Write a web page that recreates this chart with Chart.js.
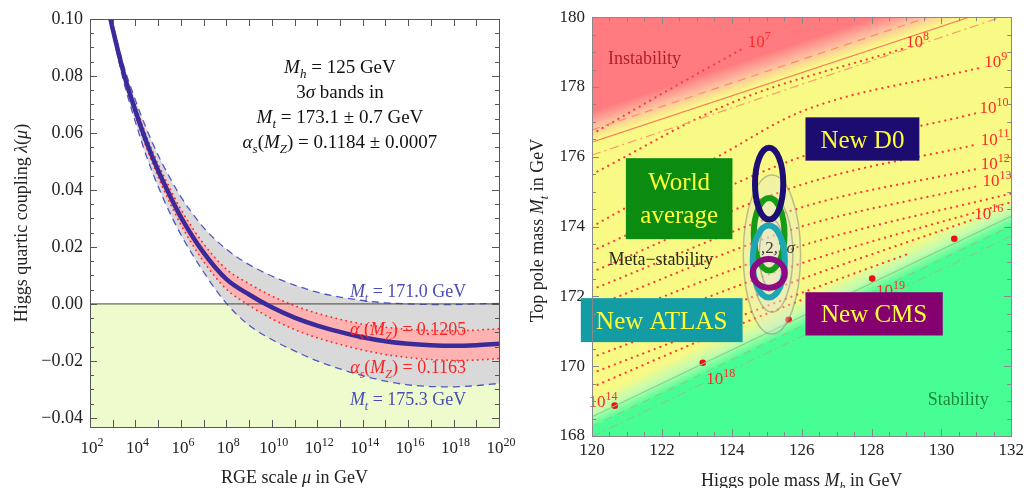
<!DOCTYPE html>
<html>
<head>
<meta charset="utf-8">
<script src="https://cdn.jsdelivr.net/npm/chart.js@4.4.1/dist/chart.umd.min.js"></script>
<style>
  html, body { margin: 0; padding: 0; background: #fff; }
  #wrap { position: relative; width: 1028px; height: 488px; overflow: hidden; }
  #lambdaChart { position: absolute; left: 0; top: 0; }
  #massChart { position: absolute; left: 520px; top: 0; }
</style>
</head>
<body>
<div id="wrap">
  <canvas id="lambdaChart" width="520" height="488"></canvas>
  <canvas id="massChart" width="508" height="488"></canvas>
</div>
<script>
const SERIF = '"Liberation Serif", "Times New Roman", serif';
Chart.defaults.font.family = SERIF;
Chart.defaults.color = '#222';

// ---- left panel: running of lambda(mu) ----
const logMu = [2.8, 3, 3.5, 4, 4.5, 5, 5.5, 6, 7, 8, 9, 10, 11, 12, 13, 14, 15, 16, 17, 18, 19, 20];
const lambdaCentral = [0.1035, 0.0965, 0.0805, 0.0678, 0.0565, 0.0468, 0.0383, 0.0305, 0.0180, 0.0087, 0.0033, -0.0012, -0.0048, -0.0076, -0.0098, -0.0117, -0.0131, -0.0140, -0.0145, -0.0147, -0.0145, -0.0140];
const lambdaMt171 = [0.1048, 0.0982, 0.0832, 0.0715, 0.0612, 0.0522, 0.0445, 0.0376, 0.0268, 0.0192, 0.0138, 0.0098, 0.0066, 0.0041, 0.0024, 0.0012, 0.0004, 0.0000, -0.0002, -0.0002, 0.0000, 0.0002];
const lambdaMt175 = [0.1020, 0.0948, 0.0775, 0.0638, 0.0515, 0.0412, 0.0322, 0.0243, 0.0112, 0.0002, -0.0075, -0.0125, -0.0165, -0.0200, -0.0228, -0.0252, -0.0271, -0.0284, -0.0290, -0.0291, -0.0287, -0.0279];
const lambdaAs1205 = [0.1045, 0.0977, 0.0820, 0.0696, 0.0585, 0.0490, 0.0408, 0.0332, 0.0211, 0.0122, 0.0071, 0.0028, -0.0006, -0.0033, -0.0054, -0.0071, -0.0082, -0.0089, -0.0093, -0.0094, -0.0092, -0.0087];
const lambdaAs1163 = [0.1025, 0.0953, 0.0790, 0.0660, 0.0545, 0.0446, 0.0358, 0.0278, 0.0149, 0.0052, -0.0005, -0.0052, -0.0090, -0.0119, -0.0142, -0.0162, -0.0178, -0.0188, -0.0195, -0.0198, -0.0197, -0.0192];
const zeroSpan = [2, 20];
const zeroLevel = [0, 0];

// ---- right panel: (Mh, Mt) plane ----
const instabEdge = [[120, 177.3], [132, 181.3]];
const instabFade = [[120, 176.45], [132, 180.45]];
const stabFade = [[120, 169.1], [132, 174.9]];
const stabEdge = [[120, 168.2], [132, 174.0]];

const instabDashed = [[120, 176.77], [132, 180.8]];
const instabSolid = [[120, 176.42], [132, 180.4]];
const instabDotDash = [[120, 176.05], [132, 180.1]];
const stabSolid = [[120, 168.55], [132, 174.3]];
const stabDashed = [[120, 168.27], [132, 174.02]];
const stabDotDash = [[120, 167.98], [132, 173.73]];

const contourPts = [
  [[120, 176.65], [122.2, 177.92], [124.4, 179.15]],
  [[120, 175.5], [124, 177.55], [128.9, 179.1]],
  [[120, 174.0], [123.7, 176.06], [126, 177.3], [131.1, 178.55]],
  [[120, 173.3], [126, 176.0], [131, 177.25]],
  [[120, 172.7], [126, 175.2], [131, 176.35]],
  [[120, 172.2], [126, 174.55], [131, 175.65]],
  [[120, 171.7], [126, 174.0], [131, 175.15]],
  [[120, 171.2], [126, 173.45], [132, 174.95]],
  [[120, 170.7], [126, 172.95], [132, 174.7]],
  [[120, 170.25], [126, 172.5], [130.9, 174.2]],
  [[120, 169.8], [126, 172.1], [129, 173.2]],
  [[120, 169.4], [123.5, 170.9], [126, 171.9]]
];
const contourLabelExp = ['7', '8', '9', '10', '11', '12', '13', '16', '19', '18', '14'];
const contourLabelMh = [124.46, 128.99, 131.23, 131.09, 131.13, 131.13, 131.18, 130.94, 128.13, 123.27, 119.9];
const contourLabelMt = [179.15, 179.15, 178.58, 177.25, 176.35, 175.64, 175.16, 174.22, 172.02, 169.5, 168.84];

const dotMh = [120.65, 123.17, 125.63, 128.02, 130.37];
const dotMt = [168.87, 170.10, 171.33, 172.51, 173.65];

const combMh = 125.15, combMt = 173.2;
const combSigMh = [0.82, 0.6, 0.36];
const combSigMt = [2.28, 1.65, 1.0];

const fitNames = ['World average', 'New ATLAS', 'New D0', 'New CMS'];
const fitMh = [125.07, 125.06, 125.07, 125.06];
const fitMt = [173.78, 173.0, 175.23, 172.66];
const fitSigMh = [0.44, 0.46, 0.405, 0.46];
const fitSigMt = [1.04, 1.03, 1.03, 0.41];
const fitColors = ['#149c16', '#1ea6b4', '#1c0e72', '#8c0a84'];

const boxLines = [['World', 'average'], ['New ATLAS'], ['New D0'], ['New CMS']];
const boxMh0 = [120.97, 119.68, 126.11, 126.11];
const boxMh1 = [124.02, 124.31, 129.37, 130.04];
const boxMtTop = [175.96, 171.95, 177.13, 172.12];
const boxMtBot = [173.64, 170.69, 175.89, 170.88];
const boxColors = ['#0b8c10', '#139ca4', '#1c0c70', '#85006f'];

const toPts = (xs, ys) => xs.map((v, i) => ({x: v, y: ys[i]}));
const pairPts = (arr) => arr.map(([x, y]) => ({x, y}));

// text with italic / sub / superscript pieces
function fontFor(st, size) {
  const small = st === 'b' || st === 'u' || st === 'd';
  const italic = st === 'i' || st === 'b';
  return (italic ? 'italic ' : '') + Math.round(small ? size * 0.68 : size) + 'px ' + SERIF;
}
function richText(ctx, parts, x, y, size, color, align) {
  ctx.save();
  ctx.fillStyle = color;
  ctx.textBaseline = 'alphabetic';
  ctx.textAlign = 'left';
  let total = 0;
  const widths = parts.map(([t, st]) => {
    ctx.font = fontFor(st, size);
    const w = ctx.measureText(t).width;
    total += w;
    return w;
  });
  let cx = align === 'left' ? x : align === 'right' ? x - total : x - total / 2;
  parts.forEach(([t, st], i) => {
    ctx.font = fontFor(st, size);
    const dy = (st === 'b' || st === 'd') ? size * 0.28 : st === 'u' ? -size * 0.42 : 0;
    ctx.fillText(t, cx, y + dy);
    cx += widths[i];
  });
  ctx.restore();
}

function drawFrame(ctx, a, xs, ys, xTicks, yTicks, color) {
  ctx.save();
  ctx.strokeStyle = color;
  ctx.lineWidth = 1;
  ctx.strokeRect(Math.round(a.left) + 0.5, Math.round(a.top) + 0.5, Math.round(a.right - a.left), Math.round(a.bottom - a.top));
  ctx.beginPath();
  xTicks.forEach(([v, len]) => {
    const p = Math.round(xs.getPixelForValue(v)) + 0.5;
    ctx.moveTo(p, a.bottom); ctx.lineTo(p, a.bottom - len);
    ctx.moveTo(p, a.top); ctx.lineTo(p, a.top + len);
  });
  yTicks.forEach(([v, len]) => {
    const p = Math.round(ys.getPixelForValue(v)) + 0.5;
    ctx.moveTo(a.left, p); ctx.lineTo(a.left + len, p);
    ctx.moveTo(a.right, p); ctx.lineTo(a.right - len, p);
  });
  ctx.stroke();
  ctx.restore();
}

const fmtLambda = (v) => {
  if (Math.abs(v) < 1e-9) return '0.00';
  return (v < 0 ? '\u2212' : '') + Math.abs(v).toFixed(2);
};

const lambdaDecor = {
  id: 'lambdaDecor',
  afterDraw(chart) {
    const {ctx, chartArea: a, scales: {x, y}} = chart;
    const xt = [];
    for (let d = 2; d <= 20; d++) xt.push([d, 7]);
    const yt = [];
    for (let i = -8; i <= 20; i++) yt.push([i * 0.005, i % 4 === 0 ? 7 : 4]);
    drawFrame(ctx, a, x, y, xt, yt, '#555');

    for (let d = 2; d <= 20; d += 2) {
      richText(ctx, [['10', 'n'], [String(d), 'u']], x.getPixelForValue(d) + 2, a.bottom + 26, 17, '#222', 'center');
    }

    const cx = x.getPixelForValue(13.0);
    richText(ctx, [['M', 'i'], ['h', 'b'], [' = 125 GeV', 'n']], cx, y.getPixelForValue(0.081), 19, '#111', 'center');
    richText(ctx, [['3', 'n'], ['\u03c3', 'i'], [' bands in', 'n']], cx, y.getPixelForValue(0.0722), 19, '#111', 'center');
    richText(ctx, [['M', 'i'], ['t', 'b'], [' = 173.1 \u00b1 0.7 GeV', 'n']], cx, y.getPixelForValue(0.0635), 19, '#111', 'center');
    richText(ctx, [['\u03b1', 'i'], ['s', 'b'], ['(', 'n'], ['M', 'i'], ['Z', 'b'], [') = 0.1184 \u00b1 0.0007', 'n']], cx, y.getPixelForValue(0.0548), 19, '#111', 'center');

    const lx = x.getPixelForValue(16.0);
    richText(ctx, [['M', 'i'], ['t', 'b'], [' = 171.0 GeV', 'n']], lx, y.getPixelForValue(0.0024), 18, '#4a4ab8', 'center');
    richText(ctx, [['\u03b1', 'i'], ['s', 'b'], ['(', 'n'], ['M', 'i'], ['Z', 'b'], [') = 0.1205', 'n']], lx, y.getPixelForValue(-0.0108), 18, '#ff2222', 'center');
    richText(ctx, [['\u03b1', 'i'], ['s', 'b'], ['(', 'n'], ['M', 'i'], ['Z', 'b'], [') = 0.1163', 'n']], lx, y.getPixelForValue(-0.0241), 18, '#ff2222', 'center');
    richText(ctx, [['M', 'i'], ['t', 'b'], [' = 175.3 GeV', 'n']], lx, y.getPixelForValue(-0.0356), 18, '#4a4ab8', 'center');

    richText(ctx, [['RGE scale ', 'n'], ['\u03bc', 'i'], [' in GeV', 'n']], (a.left + a.right) / 2, 483, 18, '#222', 'center');
    ctx.save();
    ctx.translate(27, (a.top + a.bottom) / 2);
    ctx.rotate(-Math.PI / 2);
    richText(ctx, [['Higgs quartic coupling ', 'n'], ['\u03bb', 'i'], ['(', 'n'], ['\u03bc', 'i'], [')', 'n']], 0, 0, 18, '#222', 'center');
    ctx.restore();
  }
};

const lineStyle = {pointRadius: 0, cubicInterpolationMode: 'monotone'};

new Chart(document.getElementById('lambdaChart'), {
  type: 'line',
  data: {
    datasets: [
      {data: toPts(zeroSpan, zeroLevel), fill: 'start', backgroundColor: '#eefbcd', borderWidth: 0, pointRadius: 0, order: 10},
      {data: toPts(logMu, lambdaMt171), fill: 2, backgroundColor: '#d9d9d9', borderColor: '#5058c4', borderWidth: 1.3, borderDash: [7, 5], ...lineStyle, order: 9},
      {data: toPts(logMu, lambdaMt175), fill: false, borderColor: '#5058c4', borderWidth: 1.3, borderDash: [7, 5], ...lineStyle, order: 8},
      {data: toPts(logMu, lambdaAs1205), fill: 4, backgroundColor: '#ffb2b2', borderColor: '#ff2a2a', borderWidth: 1.8, borderDash: [0.1, 5], borderCapStyle: 'round', ...lineStyle, order: 7},
      {data: toPts(logMu, lambdaAs1163), fill: false, borderColor: '#ff2a2a', borderWidth: 1.8, borderDash: [0.1, 5], borderCapStyle: 'round', ...lineStyle, order: 6},
      {data: toPts(zeroSpan, zeroLevel), fill: false, borderColor: '#444', borderWidth: 1, pointRadius: 0, order: 5},
      {data: toPts(logMu, lambdaCentral), fill: false, borderColor: '#3b2b9a', borderWidth: 4.5, ...lineStyle, order: 1}
    ]
  },
  options: {
    responsive: false,
    animation: false,
    events: [],
    layout: {padding: {top: 19, right: 21, left: 0, bottom: 0}},
    plugins: {legend: {display: false}, tooltip: {enabled: false}},
    scales: {
      x: {
        type: 'linear', min: 2, max: 20,
        grid: {display: false, drawTicks: false}, border: {display: false},
        ticks: {display: false},
        afterFit: (s) => { s.height = 61; }
      },
      y: {
        min: -0.0432, max: 0.1,
        grid: {display: false, drawTicks: false}, border: {display: false},
        ticks: {stepSize: 0.02, includeBounds: false, padding: 7, font: {size: 18}, color: '#222', callback: fmtLambda},
        afterFit: (s) => { s.width = 90; }
      }
    }
  },
  plugins: [lambdaDecor]
});

// ---- right panel helpers ----
function fillBand(ctx, xs, ys, fade, edge, colors, farY) {
  const f0 = [xs.getPixelForValue(fade[0][0]), ys.getPixelForValue(fade[0][1])];
  const f1 = [xs.getPixelForValue(fade[1][0]), ys.getPixelForValue(fade[1][1])];
  const e0 = [xs.getPixelForValue(edge[0][0]), ys.getPixelForValue(edge[0][1])];
  const dx = f1[0] - f0[0], dy = f1[1] - f0[1], len = Math.hypot(dx, dy);
  const nx = -dy / len, ny = dx / len;
  const dist = (e0[0] - f0[0]) * nx + (e0[1] - f0[1]) * ny;
  const g = ctx.createLinearGradient(f0[0], f0[1], f0[0] + nx * dist, f0[1] + ny * dist);
  g.addColorStop(0, colors[0]);
  g.addColorStop(0.5, colors[1]);
  g.addColorStop(1, colors[2]);
  ctx.fillStyle = g;
  ctx.beginPath();
  ctx.moveTo(f0[0], f0[1]);
  ctx.lineTo(f1[0], f1[1]);
  ctx.lineTo(f1[0], farY);
  ctx.lineTo(f0[0], farY);
  ctx.closePath();
  ctx.fill();
}

function ellipsePath(ctx, xs, ys, mh, mt, a, b) {
  const cx = xs.getPixelForValue(mh), cy = ys.getPixelForValue(mt);
  const rx = Math.abs(xs.getPixelForValue(mh + a) - cx);
  const ry = Math.abs(ys.getPixelForValue(mt + b) - cy);
  ctx.beginPath();
  ctx.ellipse(cx, cy, rx, ry, 0, 0, Math.PI * 2);
}

const YELLOW = '#f9fa86';

const massDecor = {
  id: 'massDecor',
  beforeDatasetsDraw(chart) {
    const {ctx, chartArea: a, scales: {x, y}} = chart;
    ctx.save();
    ctx.beginPath();
    ctx.rect(a.left, a.top, a.right - a.left, a.bottom - a.top);
    ctx.clip();
    ctx.fillStyle = YELLOW;
    ctx.fillRect(a.left, a.top, a.right - a.left, a.bottom - a.top);
    fillBand(ctx, x, y, instabFade, instabEdge, [YELLOW, '#ffbba0', '#ff7b80'], a.top - 300);
    fillBand(ctx, x, y, stabFade, stabEdge, [YELLOW, '#c4fcae', '#46fe94'], a.bottom + 300);
    ctx.restore();
  },
  afterDatasetsDraw(chart) {
    const {ctx, chartArea: a, scales: {x, y}} = chart;

    // scale labels on the contours
    contourLabelExp.forEach((e, i) => {
      richText(ctx, [['10', 'n'], [e, 'u']], x.getPixelForValue(contourLabelMh[i]), y.getPixelForValue(contourLabelMt[i]), 17, '#ff2a2a', 'left');
    });

    richText(ctx, [['Instability', 'n']], x.getPixelForValue(120.46), y.getPixelForValue(178.66), 18, '#b0202c', 'left');
    richText(ctx, [['Meta\u2212stability', 'n']], x.getPixelForValue(120.47), y.getPixelForValue(172.91), 18, '#2a2a1a', 'left');
    richText(ctx, [['Stability', 'n']], x.getPixelForValue(129.61), y.getPixelForValue(168.89), 18, '#1e8a3a', 'left');

    // combined 1,2,3 sigma regions
    ctx.save();
    combSigMh.forEach((sa, i) => {
      ellipsePath(ctx, x, y, combMh, combMt, sa, combSigMt[i]);
      ctx.fillStyle = 'rgba(228,228,215,0.35)';
      ctx.fill();
      ctx.strokeStyle = 'rgba(140,140,120,0.55)';
      ctx.lineWidth = 1.5;
      ctx.stroke();
    });
    ctx.restore();
    richText(ctx, [['1,2,3', 'n'], ['\u03c3', 'i']], x.getPixelForValue(125.2), y.getPixelForValue(173.25), 17, '#3a3a30', 'center');

    // measurement ellipses
    ctx.save();
    fitNames.forEach((n, i) => {
      ellipsePath(ctx, x, y, fitMh[i], fitMt[i], fitSigMh[i], fitSigMt[i]);
      ctx.strokeStyle = fitColors[i];
      ctx.lineWidth = 6;
      ctx.stroke();
    });
    ctx.restore();

    // experiment boxes
    boxLines.forEach((lines, i) => {
      const x0 = x.getPixelForValue(boxMh0[i]), x1 = x.getPixelForValue(boxMh1[i]);
      const y0 = y.getPixelForValue(boxMtTop[i]), y1 = y.getPixelForValue(boxMtBot[i]);
      ctx.fillStyle = boxColors[i];
      ctx.fillRect(x0, y0, x1 - x0, y1 - y0);
      const mid = (y0 + y1) / 2;
      if (lines.length === 1) {
        richText(ctx, [[lines[0], 'n']], (x0 + x1) / 2, mid + 8.5, 25, '#ffff38', 'center');
      } else {
        richText(ctx, [[lines[0], 'n']], (x0 + x1) / 2, mid - 9, 25, '#ffff38', 'center');
        richText(ctx, [[lines[1], 'n']], (x0 + x1) / 2, mid + 24, 25, '#ffff38', 'center');
      }
    });
  },
  afterDraw(chart) {
    const {ctx, chartArea: a, scales: {x, y}} = chart;
    const xt = [], yt = [];
    for (let i = 0; i <= 24; i++) {
      xt.push([120 + i * 0.5, i % 4 === 0 ? 7 : 4]);
      yt.push([168 + i * 0.5, i % 4 === 0 ? 7 : 4]);
    }
    drawFrame(ctx, a, x, y, xt, yt, '#888');

    richText(ctx, [['Higgs pole mass ', 'n'], ['M', 'i'], ['h', 'b'], [' in GeV', 'n']], (a.left + a.right) / 2, 486, 18, '#222', 'center');
    ctx.save();
    ctx.translate(23, (a.top + a.bottom) / 2 + 4);
    ctx.rotate(-Math.PI / 2);
    richText(ctx, [['Top pole mass ', 'n'], ['M', 'i'], ['t', 'b'], [' in GeV', 'n']], 0, 0, 18, '#222', 'center');
    ctx.restore();
  }
};

const massDatasets = [
  {data: pairPts(instabDashed), borderColor: '#ff8a6a', borderWidth: 1.2, borderDash: [8, 6], pointRadius: 0},
  {data: pairPts(instabSolid), borderColor: '#ff7a66', borderWidth: 1.2, pointRadius: 0},
  {data: pairPts(instabDotDash), borderColor: '#ff9a6a', borderWidth: 1.2, borderDash: [9, 4, 2, 4], pointRadius: 0},
  {data: pairPts(stabSolid), borderColor: '#8ccc8a', borderWidth: 1.1, pointRadius: 0},
  {data: pairPts(stabDashed), borderColor: '#8cc88a', borderWidth: 1.1, borderDash: [8, 6], pointRadius: 0},
  {data: pairPts(stabDotDash), borderColor: '#8cc88a', borderWidth: 1.1, borderDash: [9, 4, 2, 4], pointRadius: 0}
];
contourPts.forEach((c) => {
  massDatasets.push({data: pairPts(c), borderColor: '#ff3a3a', borderWidth: 2.2, borderDash: [0.1, 6], borderCapStyle: 'round', pointRadius: 0, cubicInterpolationMode: 'monotone'});
});
massDatasets.push({data: toPts(dotMh, dotMt), showLine: false, pointRadius: 3.3, pointBackgroundColor: '#f01010', pointBorderWidth: 0});

new Chart(document.getElementById('massChart'), {
  type: 'line',
  data: {datasets: massDatasets},
  options: {
    responsive: false,
    animation: false,
    events: [],
    layout: {padding: {top: 15, right: 16, left: 0, bottom: 0}},
    plugins: {legend: {display: false}, tooltip: {enabled: false}},
    scales: {
      x: {
        type: 'linear', min: 120, max: 132,
        grid: {display: false, drawTicks: false}, border: {display: false},
        ticks: {stepSize: 2, padding: 4, font: {size: 17}, color: '#222'},
        afterFit: (s) => { s.height = 52; }
      },
      y: {
        min: 168, max: 180,
        grid: {display: false, drawTicks: false}, border: {display: false},
        ticks: {stepSize: 2, padding: 7, font: {size: 17}, color: '#222'},
        afterFit: (s) => { s.width = 72; }
      }
    }
  },
  plugins: [massDecor]
});
</script>
</body>
</html>
